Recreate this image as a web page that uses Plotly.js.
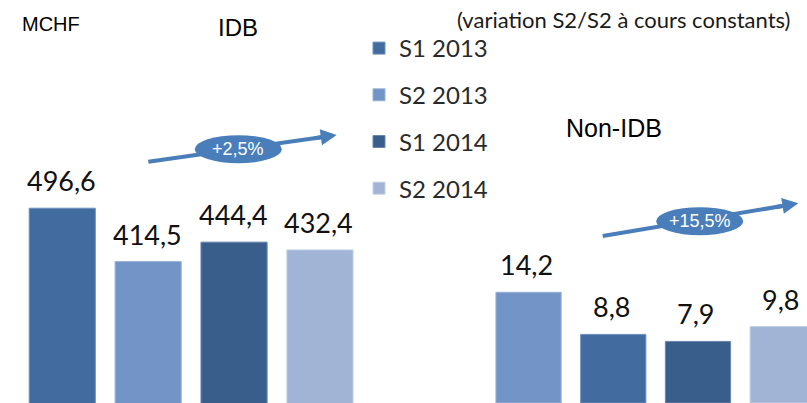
<!DOCTYPE html>
<html>
<head>
<meta charset="utf-8">
<script src="https://cdn.plot.ly/plotly-3.0.1.min.js"></script>
<style>html,body{margin:0;padding:0;background:#fff}#chart{width:807px;height:403px}</style>
</head>
<body>
<div id="chart"></div>
<script>
const categories = ['S1 2013', 'S2 2013', 'S1 2014', 'S2 2014'];
const idbValues = [496.6, 414.5, 444.4, 432.4];
const nonIdbValues = [14.2, 8.8, 7.9, 9.8];
const seriesColors = ['#426CA0', '#7394C6', '#3A5E8C', '#A1B4D6'];
const seriesEdges = ['#6E90BE', '#9AB2D8', '#6A86AE', '#C2D0E6'];
const nonIdbColors = ['#7394C6', '#426CA0', '#3A5E8C', '#A1B4D6'];
const nonIdbEdges = ['#9AB2D8', '#6E90BE', '#6A86AE', '#C2D0E6'];
const groupTitles = ['IDB', 'Non-IDB'];
const growthLabels = ['+2,5%', '+15,5%'];
const unitLabel = 'MCHF';
const subtitle = '(variation S2/S2 à cours constants)';

const W = 807, H = 403;
const PX = x => x / W;
const PY = y => 1 - y / H;
const fmt = v => v.toFixed(1).replace('.', ',');
const accent = '#4A7EBB';

const traces = [];
categories.forEach((c, i) => {
  traces.push({
    type: 'bar', x: [c], y: [idbValues[i]], name: c,
    legendgroup: 'g' + i,
    marker: {color: seriesColors[i], line: {color: seriesEdges[i], width: 1}},
    xaxis: 'x', yaxis: 'y', hoverinfo: 'skip'
  });
});
traces.push({
  type: 'bar', x: categories, y: nonIdbValues, showlegend: false,
  marker: {color: nonIdbColors, line: {color: nonIdbEdges, width: 1}},
  xaxis: 'x2', yaxis: 'y2', hoverinfo: 'skip'
});

const labelFont = {family: 'Lato', size: 27, color: '#111'};
const annotations = [];
idbValues.forEach((v, i) => annotations.push({
  xref: 'x', yref: 'y', x: categories[i], y: v, text: fmt(v), showarrow: false,
  yanchor: 'bottom', yshift: 9, xshift: -1, font: labelFont
}));
nonIdbValues.forEach((v, i) => annotations.push({
  xref: 'x2', yref: 'y2', x: categories[i], y: v, text: fmt(v), showarrow: false,
  yanchor: 'bottom', yshift: 9, xshift: -2, font: labelFont
}));

// titles
annotations.push({xref: 'paper', yref: 'paper', x: PX(20), y: PY(24.5), xanchor: 'left', yanchor: 'middle',
  text: unitLabel, showarrow: false, font: {family: 'Liberation Sans', size: 20, color: '#000'}});
annotations.push({xref: 'paper', yref: 'paper', x: PX(238.3), y: PY(28), xanchor: 'center', yanchor: 'middle',
  text: groupTitles[0], showarrow: false, font: {family: 'Liberation Sans', size: 24, color: '#000'}});
annotations.push({xref: 'paper', yref: 'paper', x: PX(613.7), y: PY(128), xanchor: 'center', yanchor: 'middle',
  text: groupTitles[1], showarrow: false, font: {family: 'Liberation Sans', size: 25, color: '#000'}});
annotations.push({xref: 'paper', yref: 'paper', x: PX(623.3), y: PY(19), xanchor: 'center', yanchor: 'middle',
  text: subtitle, showarrow: false, font: {family: 'Lato', size: 22, color: '#1a1a1a'}});

// growth arrows: [tailX, tailY, tipX, tipY, ellipse cx, cy]
const arrows = [
  [148.3, 161.7, 336.7, 135.0, 238.3, 149.2],
  [602.7, 236.0, 798.3, 203.3, 699.7, 221.2]
];
const shapes = [];
arrows.forEach((a, k) => {
  const [tx, ty, hx, hy, cx, cy] = a;
  const dx = hx - tx, dy = hy - ty, len = Math.hypot(dx, dy);
  const ux = dx / len, uy = dy / len;
  shapes.push({type: 'line', xref: 'paper', yref: 'paper',
    x0: PX(tx), y0: PY(ty), x1: PX(hx - ux * 10), y1: PY(hy - uy * 10),
    line: {color: accent, width: 4}});
  shapes.push({type: 'circle', xref: 'paper', yref: 'paper',
    x0: PX(cx - 43.5), x1: PX(cx + 43.5), y0: PY(cy - 14), y1: PY(cy + 14),
    fillcolor: accent, line: {width: 0}});
  annotations.push({xref: 'paper', yref: 'paper', x: PX(hx), y: PY(hy),
    ax: -ux * 24, ay: -uy * 24, text: '', showarrow: true, arrowhead: 2,
    arrowsize: 0.8, arrowwidth: 4, arrowcolor: accent, standoff: 0});
  annotations.push({xref: 'paper', yref: 'paper', x: PX(cx), y: PY(cy), xanchor: 'center', yanchor: 'middle',
    text: growthLabels[k], showarrow: false, font: {family: 'Liberation Sans', size: 18, color: '#fff'}});
});

const layout = {
  width: W, height: H,
  margin: {l: 0, r: 0, t: 0, b: 0, pad: 0},
  paper_bgcolor: '#fff', plot_bgcolor: 'rgba(0,0,0,0)',
  barmode: 'overlay', bargap: 0.23,
  showlegend: true,
  legend: {x: PX(359), y: PY(26), xanchor: 'left', yanchor: 'top',
    font: {family: 'Lato', size: 24, color: '#2a2a2a'}, tracegroupgap: 12.5,
    bgcolor: 'rgba(0,0,0,0)', itemwidth: 30},
  xaxis: {domain: [PX(19.3), PX(362.9)], range: [-0.5, 3.5], type: 'category',
    categoryarray: categories, visible: false, fixedrange: true},
  yaxis: {domain: [0, 1], range: [196.9, 816.9], visible: false, fixedrange: true},
  xaxis2: {domain: [PX(486.2), 1], range: [-0.5, 3.287], type: 'category',
    categoryarray: categories, anchor: 'y2', visible: false, fixedrange: true},
  yaxis2: {domain: [0, 1], range: [0, 51.7], anchor: 'x2', visible: false, fixedrange: true},
  shapes: shapes,
  annotations: annotations
};

Plotly.newPlot('chart', traces, layout, {displayModeBar: false, staticPlot: true});
</script>
</body>
</html>
